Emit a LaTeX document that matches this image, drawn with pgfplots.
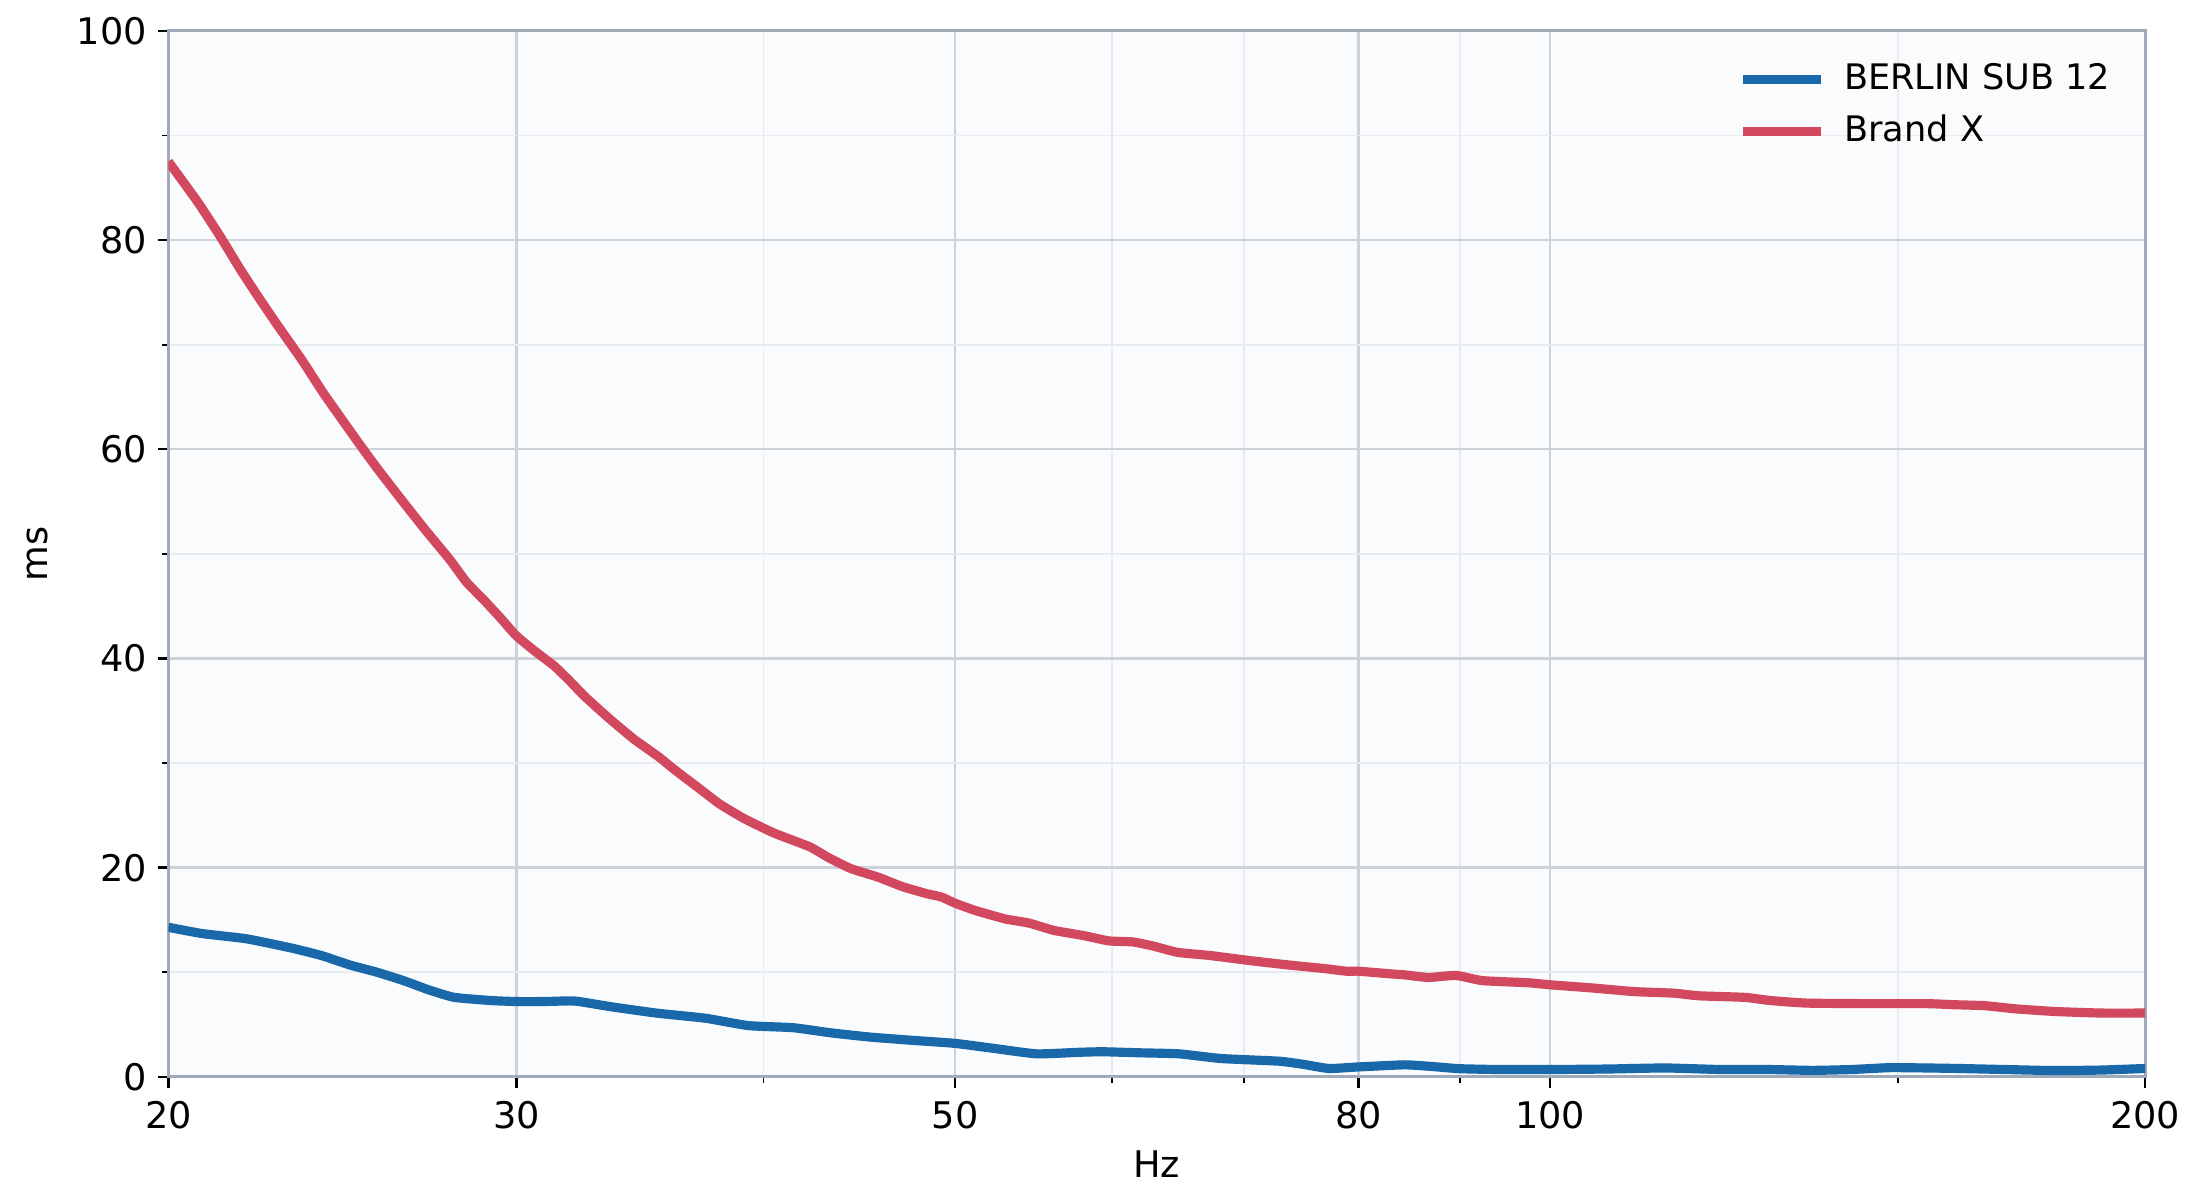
\documentclass[border=0pt]{standalone}
\usepackage{fontspec}
\setmainfont{DejaVu Sans}
\usepackage{pgfplots}
\pgfplotsset{compat=1.18}
\definecolor{cblue}{RGB}{25,105,170}
\definecolor{cred}{RGB}{210,72,94}
\definecolor{bgcol}{RGB}{249,251,253}
\definecolor{spine}{RGB}{160,170,184}
\definecolor{majgrid}{RGB}{204,211,219}
\definecolor{mingrid}{RGB}{232,236,240}
\begin{document}
\begin{tikzpicture}
\path[use as bounding box] (-55.1pt,-41.6pt) rectangle (664.2pt,352.4pt);
\begin{axis}[
  scale only axis, width=646.9pt, height=342.3pt,
  at={(0,0)}, anchor=south west,
  xmode=log, xmin=20, xmax=200, ymin=0, ymax=100,
  xtick={20,30,50,80,100,200}, xticklabels={20,30,50,80,100,200},
  minor xtick={40,60,70,90,150},
  ytick={0,20,40,60,80,100}, yticklabels={0,20,40,60,80,100},
  minor ytick={10,30,50,70,90},
  /pgf/number format/assume math mode=true,
  tick pos=left, tick align=outside,
  major tick length=3.5pt, minor tick length=2pt,
  every tick/.style={black, line width=0.8pt},
  minor tick style={black, line width=0.6pt},
  grid=both,
  major grid style={color=majgrid, line width=0.8pt},
  minor grid style={color=mingrid, line width=0.6pt},
  axis line style={color=spine, line width=1pt},
  axis background/.style={fill=bgcol},
  tick label style={font=\fontsize{12}{14}\selectfont},
  xticklabel style={yshift=-1pt},
  xlabel={Hz}, ylabel={ms},
  every axis x label/.style={at={([yshift=-28.5pt]axis description cs:0.5,0)}, anchor=center, font=\fontsize{12}{14}\selectfont},
  every axis y label/.style={at={([xshift=-42.7pt]axis description cs:0,0.5)}, anchor=center, rotate=90, font=\fontsize{12}{14}\selectfont},
  legend style={at={([xshift=-6.7pt,yshift=-6.5pt]axis description cs:1,1)}, anchor=north east,
    draw=none, fill=none, font=\fontsize{11.5}{13.5}\selectfont, row sep=2.6pt, column sep=4.5pt,
    nodes={inner sep=1.5pt, text height=9pt, text depth=2.5pt}},
  legend cell align=left,
  legend image code/.code={\draw[#1, line width=3pt] (0pt,0pt) -- (25.5pt,0pt);},
]
\addplot[cblue, line width=3pt, line join=round, smooth, tension=0.3] coordinates {
(20,14.3) (20.8,13.7) (21.9,13.2) (23.1,12.3) (23.9,11.6) (24.7,10.7) (25.5,10.0)
(26.3,9.2) (27.1,8.3) (27.9,7.6) (29.1,7.3) (30,7.2) (31,7.2) (32.1,7.25) (33.5,6.7)
(35.3,6.1) (37.4,5.6) (39.3,4.9) (41.4,4.7) (43.3,4.2) (45.3,3.8) (47.5,3.5) (50,3.2)
(52.4,2.7) (55.0,2.2) (57.8,2.35) (59.4,2.4) (62,2.3) (64.9,2.2) (68.2,1.75) (72.9,1.5)
(75,1.2) (77.3,0.8) (80,0.95) (84.4,1.15) (87,1.0) (90,0.78) (94.3,0.7) (100,0.7)
(107,0.75) (114.3,0.85) (122,0.7) (129,0.7) (135.8,0.62) (142,0.7) (148.5,0.88)
(155,0.85) (161,0.8) (170,0.7) (180,0.6) (190,0.65) (200,0.8)
};
\addlegendentry{BERLIN SUB 12}
\addplot[cred, line width=3pt, line join=round, smooth, tension=0.3] coordinates {
(20,87.5) (20.7,83.6) (21.25,80.3) (21.73,77.3) (22.2,74.6) (22.72,71.8) (23.35,68.6)
(23.99,65.2) (24.96,60.6) (25.5,58.2) (26.33,54.8) (27.0,52.2) (27.77,49.4) (28.3,47.3)
(28.91,45.5) (29.5,43.7) (29.98,42.2) (30.6,40.8) (31.34,39.3) (31.9,37.9) (32.47,36.4)
(33.4,34.3) (34.39,32.3) (35.4,30.6) (36.1,29.3) (37.1,27.6) (38.0,26.1) (39.1,24.7)
(40.5,23.3) (42.2,22.0) (43.2,20.9) (44.3,19.9) (45.7,19.1) (47.0,18.2) (48.4,17.5)
(49.2,17.2) (50,16.6) (51.2,15.9) (53.0,15.1) (54.5,14.7) (56.1,14.0) (58.1,13.5)
(59.8,13.0) (61.5,12.9) (63.0,12.5) (64.8,11.9) (67.3,11.6) (70.6,11.1) (73.7,10.7)
(76.9,10.35) (78.9,10.1) (80,10.1) (83.0,9.85) (84.4,9.75) (86.8,9.5) (89.6,9.7)
(92.4,9.2) (97.4,9.0) (100,8.8) (105,8.5) (110.3,8.15) (115.5,8.0) (118.9,7.75)
(125.4,7.6) (129.2,7.3) (134.9,7.05) (145,7.0) (155,7.0) (160,6.9) (166,6.8)
(172,6.5) (180,6.25) (190,6.1) (200,6.1)
};
\addlegendentry{Brand X}
\end{axis}
\end{tikzpicture}
\end{document}
